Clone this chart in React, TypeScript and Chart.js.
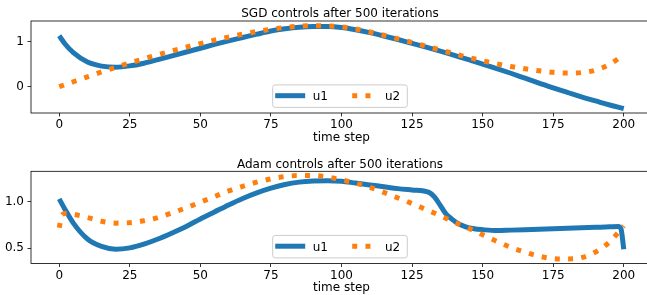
import React, { useEffect, useRef } from 'react';
import { Chart, registerables } from 'chart.js';

Chart.register(...registerables);

// ---------- data ----------
const X_TICKS = [0, 25, 50, 75, 100, 125, 150, 175, 200];

const SGD_TITLE = 'SGD controls after 500 iterations';
const SGD_Y_TICKS = [0, 1];
const sgdU1Steps = [0, 2, 5, 10, 15, 20, 25, 30, 35, 40, 45, 50, 55, 60, 65, 70, 75, 80, 85, 90, 95, 100, 105, 110, 115, 120, 125, 130, 135, 140, 145, 150, 155, 160, 165, 170, 175, 180, 185, 190, 195, 200];
const sgdU1 = [1.14, 0.96, 0.76, 0.55, 0.46, 0.435, 0.465, 0.525, 0.605, 0.69, 0.775, 0.86, 0.945, 1.025, 1.10, 1.175, 1.245, 1.295, 1.33, 1.345, 1.345, 1.325, 1.275, 1.21, 1.135, 1.055, 0.97, 0.885, 0.795, 0.70, 0.605, 0.505, 0.405, 0.30, 0.19, 0.08, -0.03, -0.13, -0.23, -0.32, -0.41, -0.49];
const sgdU2Steps = [0, 5, 10, 15, 20, 25, 30, 35, 40, 45, 50, 55, 60, 65, 70, 75, 80, 85, 90, 95, 100, 105, 110, 115, 120, 125, 130, 135, 140, 145, 150, 155, 160, 165, 170, 175, 180, 185, 190, 195, 200];
const sgdU2 = [0.00, 0.11, 0.22, 0.33, 0.43, 0.53, 0.625, 0.715, 0.80, 0.885, 0.965, 1.04, 1.11, 1.175, 1.235, 1.285, 1.325, 1.355, 1.365, 1.36, 1.34, 1.29, 1.225, 1.15, 1.07, 0.99, 0.905, 0.82, 0.735, 0.655, 0.58, 0.51, 0.45, 0.40, 0.355, 0.32, 0.305, 0.315, 0.37, 0.50, 0.72];

const ADAM_TITLE = 'Adam controls after 500 iterations';
const ADAM_Y_TICKS = [0.5, 1.0];
const adamU1Steps = [0, 2, 5, 10, 15, 20, 25, 30, 35, 40, 45, 50, 55, 60, 65, 70, 75, 80, 85, 90, 95, 100, 105, 110, 115, 120, 125, 131, 133, 135, 137, 139, 141, 144, 147, 150, 155, 160, 165, 170, 175, 180, 185, 190, 195, 198, 199, 200];
const adamU1 = [1.03, 0.92, 0.77, 0.60, 0.52, 0.49, 0.505, 0.545, 0.60, 0.665, 0.735, 0.815, 0.89, 0.965, 1.035, 1.095, 1.145, 1.185, 1.21, 1.222, 1.225, 1.22, 1.20, 1.18, 1.16, 1.14, 1.125, 1.10, 1.05, 0.96, 0.87, 0.815, 0.77, 0.73, 0.71, 0.70, 0.69, 0.695, 0.70, 0.705, 0.71, 0.715, 0.72, 0.725, 0.73, 0.735, 0.71, 0.49];
const adamU2Steps = [0, 1, 3, 5, 10, 15, 20, 25, 30, 35, 40, 45, 50, 55, 60, 65, 70, 75, 80, 85, 90, 95, 100, 105, 110, 115, 120, 125, 130, 135, 140, 145, 150, 155, 160, 165, 170, 175, 180, 185, 190, 195, 200];
const adamU2 = [0.72, 0.86, 0.875, 0.865, 0.83, 0.79, 0.77, 0.775, 0.795, 0.83, 0.88, 0.935, 0.995, 1.055, 1.115, 1.165, 1.21, 1.245, 1.27, 1.28, 1.28, 1.265, 1.235, 1.198, 1.155, 1.10, 1.04, 0.98, 0.915, 0.85, 0.78, 0.715, 0.645, 0.575, 0.51, 0.46, 0.415, 0.39, 0.385, 0.40, 0.46, 0.57, 0.74];

const LABELS = ['u1', 'u2'];

// ---------- styles ----------
const BLUE = '#1f77b4';
const ORANGE = '#ff7f0e';
const FONT = 'DejaVu Sans';
const FONT_SIZE = 12;
const DASH = [5, 8.25];

type PanelSpec = {
  title: string;
  yTicks: number[];
  yMin: number;
  yMax: number;
  yFmt: (v: number) => string;
  u1x: number[];
  u1: number[];
  u2x: number[];
  u2: number[];
  height: number;
  areaTop: number;
  xAxisH: number;
  xTitlePad: number;
  titleBaseline: number;
};

const framePlugin = {
  id: 'frameAndDecor',
  afterDatasetsDraw(chart: any) {
    const { ctx, chartArea: a } = chart;
    const spec: PanelSpec = chart.options.plugins.frameAndDecor.spec;
    ctx.save();
    // frame (spines)
    ctx.strokeStyle = '#000';
    ctx.lineWidth = 0.8;
    ctx.strokeRect(a.left, a.top, a.right - a.left, a.bottom - a.top);

    // title
    ctx.fillStyle = '#000';
    ctx.font = `${FONT_SIZE}px "${FONT}"`;
    ctx.textAlign = 'center';
    ctx.textBaseline = 'alphabetic';
    ctx.fillText(spec.title, (a.left + a.right) / 2 - 1.5, spec.titleBaseline);

    // legend (lower center)
    const bw = 134.6;
    const bh = 22.5;
    const bx = (a.left + a.right) / 2 - 1.5 - bw / 2;
    const by = a.bottom - 5.6 - bh;
    const r = 2.5;
    ctx.beginPath();
    ctx.moveTo(bx + r, by);
    ctx.lineTo(bx + bw - r, by);
    ctx.arcTo(bx + bw, by, bx + bw, by + r, r);
    ctx.lineTo(bx + bw, by + bh - r);
    ctx.arcTo(bx + bw, by + bh, bx + bw - r, by + bh, r);
    ctx.lineTo(bx + r, by + bh);
    ctx.arcTo(bx, by + bh, bx, by + bh - r, r);
    ctx.lineTo(bx, by + r);
    ctx.arcTo(bx, by, bx + r, by, r);
    ctx.closePath();
    ctx.fillStyle = 'rgba(255,255,255,0.8)';
    ctx.fill();
    ctx.strokeStyle = '#cccccc';
    ctx.lineWidth = 1;
    ctx.stroke();

    const hy = by + 10.8;
    ctx.lineCap = 'butt';
    ctx.lineWidth = 5;
    ctx.strokeStyle = BLUE;
    ctx.setLineDash([]);
    ctx.beginPath();
    ctx.moveTo(bx + 2.5, hy);
    ctx.lineTo(bx + 32.5, hy);
    ctx.stroke();
    ctx.strokeStyle = ORANGE;
    ctx.setLineDash(DASH);
    ctx.beginPath();
    ctx.moveTo(bx + 79.5, hy);
    ctx.lineTo(bx + 103.5, hy);
    ctx.stroke();
    ctx.setLineDash([]);

    ctx.fillStyle = '#000';
    ctx.font = `${FONT_SIZE}px "${FONT}"`;
    ctx.textAlign = 'left';
    ctx.textBaseline = 'alphabetic';
    ctx.fillText(LABELS[0], bx + 40, by + 15.5);
    ctx.fillText(LABELS[1], bx + 112.3, by + 15.5);
    ctx.restore();
  },
};

function Panel({ spec, top }: { spec: PanelSpec; top: number }) {
  const ref = useRef<HTMLCanvasElement | null>(null);
  useEffect(() => {
    if (!ref.current) return;
    const tickFont = { family: FONT, size: FONT_SIZE };
    const chart = new Chart(ref.current, {
      type: 'line',
      data: {
        datasets: [
          {
            label: LABELS[0],
            data: spec.u1x.map((x, i) => ({ x, y: spec.u1[i] })),
            borderColor: BLUE,
            borderWidth: 5,
            pointRadius: 0,
            fill: false,
            cubicInterpolationMode: 'monotone',
            borderCapStyle: 'butt',
            borderJoinStyle: 'round',
            order: 1,
          },
          {
            label: LABELS[1],
            data: spec.u2x.map((x, i) => ({ x, y: spec.u2[i] })),
            borderColor: ORANGE,
            borderWidth: 5,
            borderDash: DASH,
            pointRadius: 0,
            fill: false,
            cubicInterpolationMode: 'monotone',
            borderCapStyle: 'butt',
            borderJoinStyle: 'round',
            order: 0,
          },
        ],
      },
      options: {
        animation: false,
        responsive: false,
        events: [],
        layout: { padding: { top: spec.areaTop, left: 0, right: 10, bottom: 0 } },
        plugins: {
          legend: { display: false },
          tooltip: { enabled: false },
          title: { display: false },
          frameAndDecor: { spec },
        } as any,
        scales: {
          x: {
            type: 'linear',
            min: -10,
            max: 210,
            afterBuildTicks: (s: any) => {
              s.ticks = X_TICKS.map((v) => ({ value: v }));
            },
            afterFit: (s: any) => {
              s.height = spec.xAxisH;
            },
            grid: { display: true, drawOnChartArea: false, drawTicks: true, tickLength: 3.5, tickWidth: 0.8, tickColor: '#000' },
            border: { display: false },
            ticks: {
              color: '#000',
              font: tickFont,
              padding: 1.5,
              maxRotation: 0,
              autoSkip: false,
              callback: (v: any) => String(v),
            },
            title: {
              display: true,
              text: 'time step',
              color: '#000',
              font: tickFont,
              padding: { top: 0, bottom: spec.xTitlePad },
            },
          },
          y: {
            type: 'linear',
            min: spec.yMin,
            max: spec.yMax,
            afterBuildTicks: (s: any) => {
              s.ticks = spec.yTicks.map((v) => ({ value: v }));
            },
            afterFit: (s: any) => {
              s.width = 31;
            },
            grid: { display: true, drawOnChartArea: false, drawTicks: true, tickLength: 3.5, tickWidth: 0.8, tickColor: '#000' },
            border: { display: false },
            ticks: {
              color: '#000',
              font: tickFont,
              padding: 3.5,
              autoSkip: false,
              callback: (v: any) => spec.yFmt(Number(v)),
            },
          },
        },
      } as any,
      plugins: [framePlugin],
    });
    return () => chart.destroy();
  }, [spec]);
  return (
    <canvas
      ref={ref}
      width={662}
      height={spec.height}
      style={{ position: 'absolute', left: 0, top, width: 662, height: spec.height, display: 'block' }}
    />
  );
}

const sgdSpec: PanelSpec = {
  title: SGD_TITLE,
  yTicks: SGD_Y_TICKS,
  yMin: -0.59,
  yMax: 1.47,
  yFmt: (v) => String(v),
  u1x: sgdU1Steps,
  u1: sgdU1,
  u2x: sgdU2Steps,
  u2: sgdU2,
  height: 147,
  areaTop: 21,
  xAxisH: 34,
  xTitlePad: 2,
  titleBaseline: 17.3,
};

const adamSpec: PanelSpec = {
  title: ADAM_TITLE,
  yTicks: ADAM_Y_TICKS,
  yMin: 0.337,
  yMax: 1.326,
  yFmt: (v) => v.toFixed(1),
  u1x: adamU1Steps,
  u1: adamU1,
  u2x: adamU2Steps,
  u2: adamU2,
  height: 148,
  areaTop: 24.3,
  xAxisH: 31.5,
  xTitlePad: 0,
  titleBaseline: 20.7,
};

export default function App() {
  return (
    <div
      style={{
        position: 'absolute',
        left: 0,
        top: 0,
        width: 647,
        height: 295,
        overflow: 'hidden',
        background: '#fff',
      }}
    >
      <Panel spec={sgdSpec} top={0} />
      <Panel spec={adamSpec} top={147} />
    </div>
  );
}
